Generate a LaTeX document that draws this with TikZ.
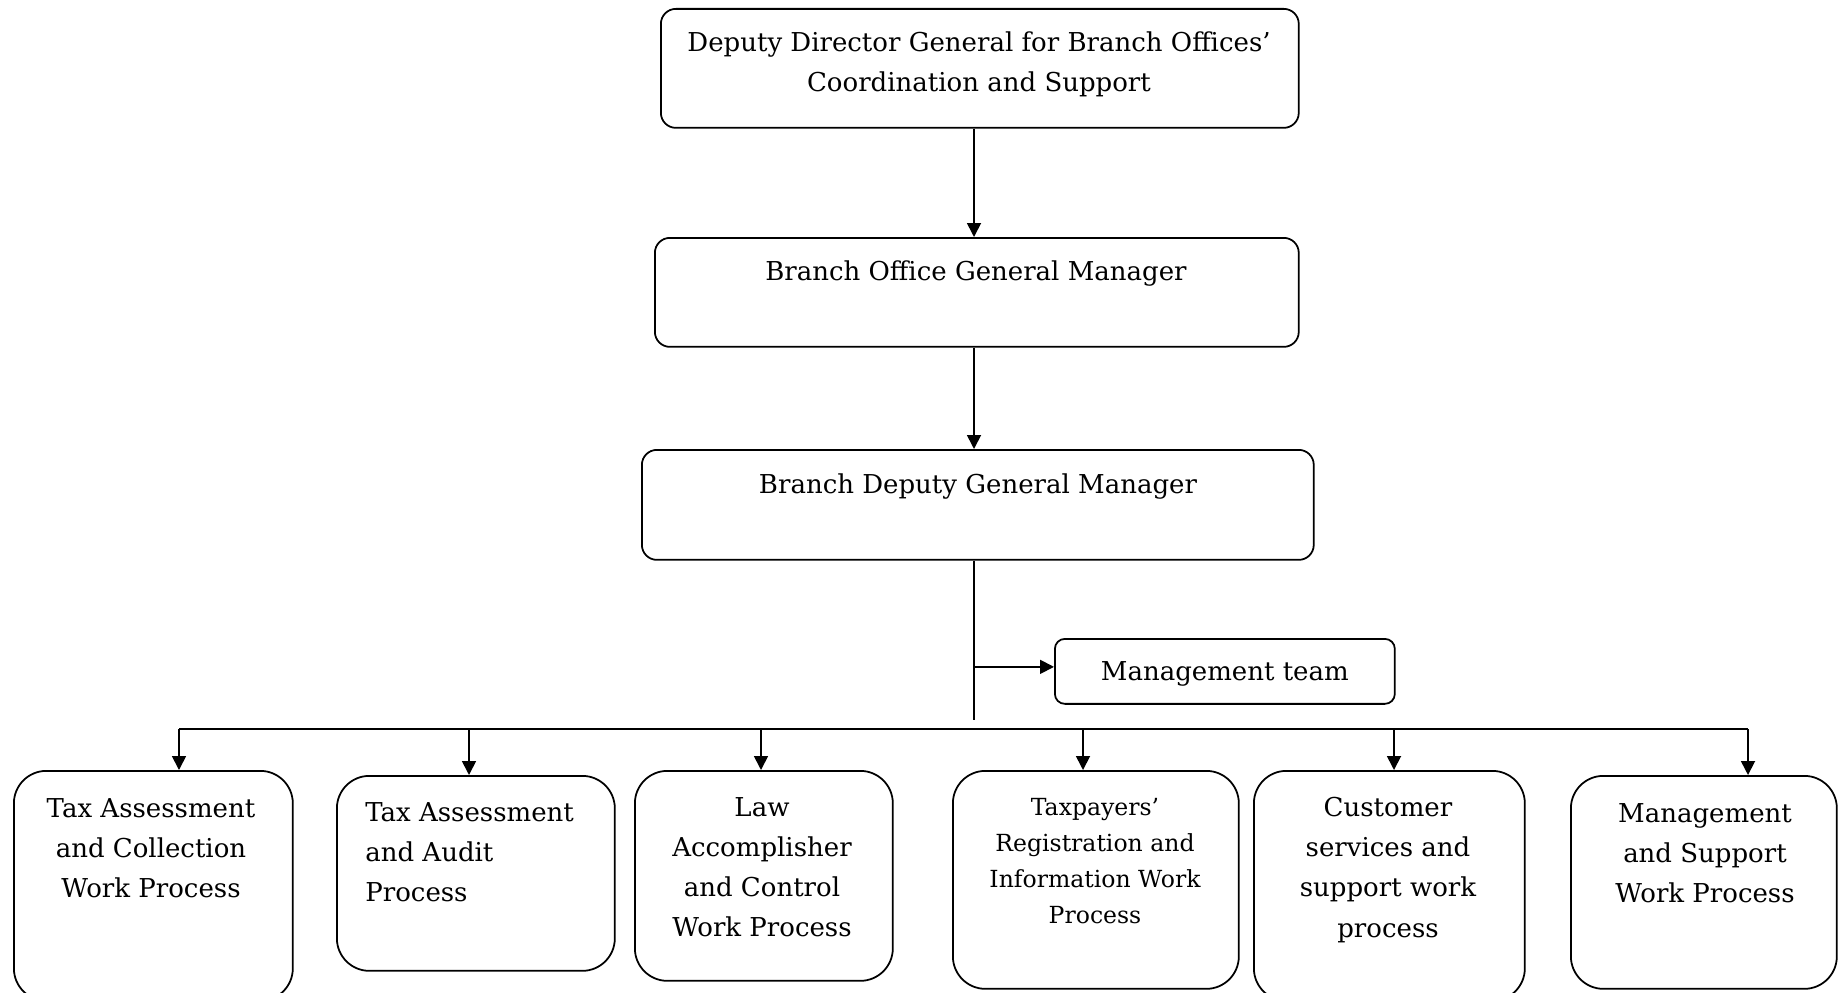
\documentclass[tikz,border=0pt]{standalone}
\usepackage{fontspec}
\setmainfont{DejaVu Serif}
\usetikzlibrary{arrows.meta}
\begin{document}
\begin{tikzpicture}[x=0.02cm,y=-0.02cm,
  box/.style={draw, line width=1pt, rounded corners=0.3cm, inner sep=0pt, anchor=north west},
  bbox/.style={box, rounded corners=0.65cm},
  lbl/.style={font=\fontsize{14.8}{22.8}\selectfont, align=center, inner sep=0pt},
  slbl/.style={font=\fontsize{13.4}{20.6}\selectfont, align=center, inner sep=0pt},
  arr/.style={line width=1pt, -{Triangle[length=0.28cm,width=0.28cm]}},
  ln/.style={line width=1pt}]
\useasboundingbox (0,0) rectangle (1838,993);
% top boxes
\node[box, minimum width=12.76cm, minimum height=2.38cm] (t1) at (660,8) {};
\node[box, minimum width=12.88cm, minimum height=2.18cm] (t2) at (654,237) {};
\node[box, minimum width=13.44cm, minimum height=2.2cm] (t3) at (641,449) {};
\node[box, rounded corners=0.2cm, minimum width=6.8cm, minimum height=1.3cm, lbl, text depth=0pt] (mt) at (1054,638) {Management team};
\node[lbl] (tx1) at (979,64) {Deputy Director General for Branch Offices'\\Coordination and Support};
\node[lbl] (tx2) at (976,274) {Branch Office General Manager};
\node[lbl] (tx3) at (978,487) {Branch Deputy General Manager};
% bottom boxes
\node[bbox, minimum width=5.58cm, minimum height=4.6cm] (b1) at (13,770) {};
\node[bbox, minimum width=5.56cm, minimum height=3.9cm] (b2) at (336,775) {};
\node[bbox, minimum width=5.16cm, minimum height=4.2cm] (b3) at (634,770) {};
\node[bbox, minimum width=5.72cm, minimum height=4.36cm] (b4) at (952,770) {};
\node[bbox, minimum width=5.42cm, minimum height=4.6cm] (b5) at (1253,770) {};
\node[bbox, minimum width=5.32cm, minimum height=4.26cm] (b6) at (1570,775) {};
\node[lbl] (bt1) at (151,848) {Tax Assessment\\and Collection\\Work Process};
\node[lbl, align=left, anchor=west] (bt2) at (365,852) {Tax Assessment\\and Audit\\Process};
\node[lbl] (bt3) at (762,867) {Law\\Accomplisher\\and Control\\Work Process};
\node[slbl] (bt4) at (1095,861) {Taxpayers'\\Registration and\\Information Work\\Process};
\node[lbl] (bt5) at (1388,870) {Customer\\services and\\support work\\process};
\node[lbl] (bt6) at (1705,853) {Management\\and Support\\Work Process};
% connectors
\coordinate (sp) at (974,0);
\coordinate (jend) at (974,720);
\draw[arr] (t1.south -| sp) -- (t2.north -| sp);
\draw[arr] (t2.south -| sp) -- (t3.north -| sp);
\draw[ln] (t3.south -| sp) -- (jend);
\draw[arr] ([yshift=0.09cm]mt.west -| sp) -- ([yshift=0.09cm]mt.west);
\coordinate (d1) at (179,729);
\coordinate (d2) at (469,729);
\coordinate (d3) at (761,729);
\coordinate (d4) at (1083,729);
\coordinate (d5) at (1394,729);
\coordinate (d6) at (1748,729);
\draw[ln] (d1) -- (d6);
\draw[arr] (d1) -- (d1 |- b1.north);
\draw[arr] (d2) -- (d2 |- b2.north);
\draw[arr] (d3) -- (d3 |- b3.north);
\draw[arr] (d4) -- (d4 |- b4.north);
\draw[arr] (d5) -- (d5 |- b5.north);
\draw[arr] (d6) -- (d6 |- b6.north);
\end{tikzpicture}
\end{document}
